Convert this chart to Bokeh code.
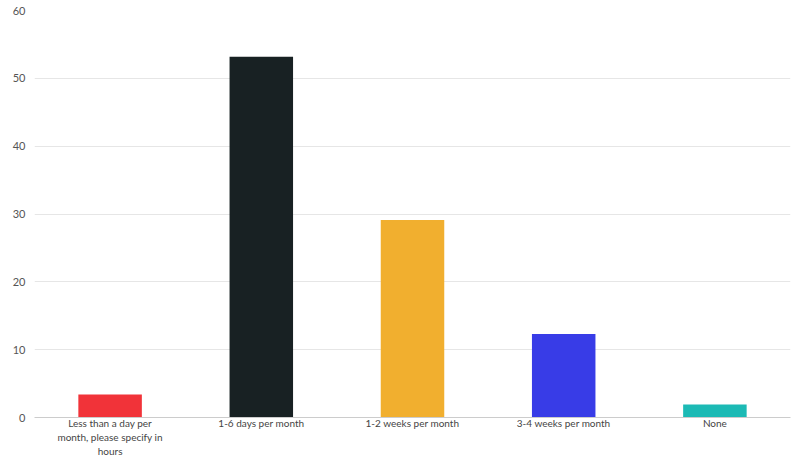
from bokeh.plotting import figure
from bokeh.models import ColumnDataSource, FactorRange, FixedTicker, Range1d
from bokeh.embed import file_html
from bokeh.resources import INLINE

categories = ["Less than a day per\nmonth, please specify in\nhours", "1-6 days per month",
              "1-2 weeks per month", "3-4 weeks per month", "None"]
values = [3.4, 53.2, 29.1, 12.3, 1.9]
colors = ["#f13339", "#182123", "#f1af2f", "#383ce7", "#1cbab5"]
y_ticks = [0, 10, 20, 30, 40, 50, 60]

src = ColumnDataSource(dict(cat=categories, val=values, col=colors))

p = figure(x_range=FactorRange(*categories), y_range=Range1d(0, 60),
           width=806, height=460, output_backend="svg", toolbar_location=None,
           min_border_left=34, min_border_right=16, min_border_top=10, min_border_bottom=42)
p.vbar(x="cat", top="val", width=0.42, color="col", line_color=None, source=src)

p.outline_line_color = None
p.xgrid.grid_line_color = None
p.ygrid.grid_line_color = "#e6e6e6"
p.ygrid.grid_line_width = 1

p.yaxis.ticker = FixedTicker(ticks=y_ticks)
p.yaxis.axis_line_color = None
p.yaxis.major_tick_line_color = None
p.yaxis.minor_tick_line_color = None
p.yaxis.major_tick_out = 0
p.yaxis.major_tick_in = 0
p.yaxis.major_label_standoff = 9
p.yaxis.major_label_text_font = "Lato"
p.yaxis.major_label_text_font_size = "11px"
p.yaxis.major_label_text_color = "#555555"

p.xaxis.axis_line_color = "#cccccc"
p.xaxis.major_tick_line_color = None
p.xaxis.minor_tick_line_color = None
p.xaxis.major_tick_out = 0
p.xaxis.major_tick_in = 0
p.xaxis.major_label_standoff = -1
p.xaxis.major_label_text_font = "Lato"
p.xaxis.major_label_text_font_size = "10px"
p.xaxis.major_label_text_color = "#444444"

open("out.html", "w").write(file_html(p, INLINE))
